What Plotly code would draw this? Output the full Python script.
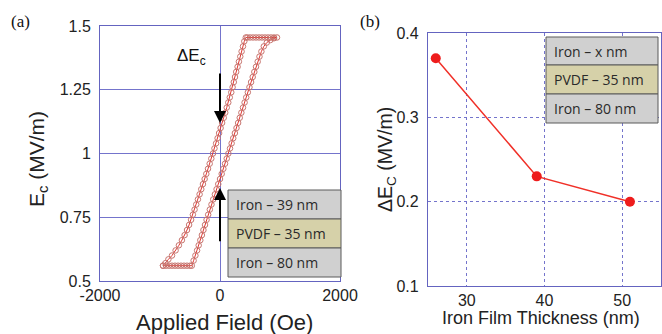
import plotly.graph_objects as go

# ---------------- data: panel (a) hysteresis loop ----------------
# ascending field: bottom saturation then rising branch
field_up = [-950, -900, -850, -800, -750, -700, -650, -600, -550, -500,
            -470, -440, -410, -382, -355, -328, -302, -276, -250, -224,
            -197, -170, -142, -113, -85, -57, -29, 0, 28, 56,
            84, 112, 140, 167, 194, 221, 248, 275, 302, 329,
            356, 383, 410, 437, 464, 491, 518, 545, 572, 600,
            628, 658, 690, 730, 780, 840, 900, 950]
ec_up = [0.56, 0.56, 0.56, 0.56, 0.56, 0.56, 0.56, 0.56, 0.56, 0.56,
         0.56, 0.58, 0.60, 0.62, 0.64, 0.66, 0.68, 0.70, 0.72, 0.74,
         0.76, 0.78, 0.80, 0.82, 0.84, 0.86, 0.88, 0.90, 0.92, 0.94,
         0.96, 0.98, 1.00, 1.02, 1.04, 1.06, 1.08, 1.10, 1.12, 1.14,
         1.16, 1.18, 1.20, 1.22, 1.24, 1.26, 1.28, 1.30, 1.32, 1.34,
         1.36, 1.38, 1.40, 1.42, 1.435, 1.445, 1.452, 1.455]
# descending field: top saturation then falling branch
field_down = [900, 850, 800, 750, 700, 650, 600, 550, 500, 455,
              430, 405, 383, 360, 338, 315, 293, 270, 250, 230,
              210, 188, 163, 138, 112, 87, 62, 35, 10, -15,
              -40, -65, -92, -117, -145, -172, -200, -228, -256, -284,
              -312, -340, -368, -396, -424, -452, -482, -515, -550, -590,
              -635, -685, -740, -800, -860, -910, -950]
ec_down = [1.455, 1.455, 1.455, 1.455, 1.455, 1.455, 1.455, 1.455, 1.455, 1.455,
           1.455, 1.44, 1.42, 1.40, 1.38, 1.36, 1.34, 1.32, 1.30, 1.28,
           1.26, 1.24, 1.22, 1.20, 1.18, 1.16, 1.14, 1.12, 1.10, 1.08,
           1.06, 1.04, 1.02, 1.00, 0.98, 0.96, 0.94, 0.92, 0.90, 0.88,
           0.86, 0.84, 0.82, 0.80, 0.78, 0.76, 0.74, 0.72, 0.70, 0.68,
           0.66, 0.64, 0.62, 0.60, 0.585, 0.57, 0.56]

a_xticks = [-2000, 0, 2000]
a_yticks = [0.5, 0.75, 1, 1.25, 1.5]
a_ylabels = ["0.5", "0.75", "1", "1.25", "1.5"]
layers_a = ["Iron – 39 nm", "PVDF – 35 nm", "Iron – 80 nm"]

# ---------------- data: panel (b) ----------------
thickness_nm = [26, 39, 51]
delta_ec = [0.37, 0.23, 0.20]
b_xticks = [30, 40, 50]
b_yticks = [0.1, 0.2, 0.3, 0.4]
layers_b = ["Iron – x nm", "PVDF – 35 nm", "Iron – 80 nm"]

W, H = 662, 334


def px(x):
    return x / W


def py(y):
    return 1 - y / H


fig = go.Figure()

fig.add_trace(go.Scatter(
    x=field_up + field_down, y=ec_up + ec_down,
    mode="lines+markers",
    line=dict(color="#e2322c", width=1),
    marker=dict(symbol="circle-open", size=5.5, color="#c7746e",
                line=dict(width=1, color="#c7746e")),
    xaxis="x", yaxis="y", showlegend=False, hoverinfo="skip"))

fig.add_trace(go.Scatter(
    x=thickness_nm, y=delta_ec, mode="lines+markers",
    line=dict(color="#f03028", width=1.5),
    marker=dict(symbol="circle", size=10, color="#ee1c1c"),
    xaxis="x2", yaxis="y2", showlegend=False, hoverinfo="skip"))

tickfont = dict(family="Liberation Sans, Arial", size=16, color="#222")
axcol = "#6464c0"
gridcol = "#7474cc"

fig.update_layout(
    width=W, height=H, margin=dict(l=0, r=0, t=0, b=0, autoexpand=False),
    paper_bgcolor="white", plot_bgcolor="white",
    xaxis=dict(domain=[px(100), px(340)], range=[-2000, 2000],
               tickvals=a_xticks, ticktext=[str(v) for v in a_xticks],
               showgrid=True, gridcolor=gridcol, gridwidth=1,
               zeroline=False, showline=True, mirror=True,
               linecolor=axcol, linewidth=1, ticks="", automargin=False,
               tickfont=tickfont, anchor="y"),
    yaxis=dict(domain=[py(281), py(26)], range=[0.5, 1.5],
               tickvals=a_yticks, ticktext=a_ylabels,
               showgrid=True, gridcolor=gridcol, gridwidth=1,
               zeroline=False, showline=True, mirror=True,
               linecolor=axcol, linewidth=1, ticks="", automargin=False,
               ticklabelstandoff=5,
               tickfont=tickfont, anchor="x"),
    xaxis2=dict(domain=[px(428), px(661)], range=[25, 55],
                tickvals=b_xticks, ticktext=[str(v) for v in b_xticks],
                showgrid=True, gridcolor=gridcol, gridwidth=1, griddash="dot",
                zeroline=False, showline=True, mirror=True,
                linecolor=axcol, linewidth=1.2, ticks="", automargin=False,
                tickfont=tickfont, anchor="y2"),
    yaxis2=dict(domain=[py(286), py(33)], range=[0.1, 0.4],
                tickvals=b_yticks, ticktext=["0.1", "0.2", "0.3", "0.4"],
                showgrid=True, gridcolor=gridcol, gridwidth=1, griddash="dot",
                zeroline=False, showline=True, mirror=True,
                linecolor=axcol, linewidth=1.2, ticks="", automargin=False,
                ticklabelstandoff=5,
                tickfont=tickfont, anchor="x2"),
)

shapes = []
annotations = []
boxfill = ["#d0d0d0", "#d6d1a9", "#d0d0d0"]


def add_layers(x0, x1, tops, labels, tx):
    for i, lab in enumerate(labels):
        y0, y1 = tops[i], tops[i + 1]
        shapes.append(dict(type="rect", xref="paper", yref="paper",
                           x0=px(x0), x1=px(x1), y0=py(y1), y1=py(y0),
                           fillcolor=boxfill[i],
                           line=dict(color="#5a5a5a", width=1), layer="above"))
        annotations.append(dict(xref="paper", yref="paper", x=px(tx),
                                y=py((y0 + y1) / 2), text=lab, showarrow=False,
                                xanchor="left", yanchor="middle",
                                font=dict(family="Open Sans", size=14, color="#2a2a2a")))


add_layers(228, 341, [190, 219, 248, 277], layers_a, 234)
add_layers(546, 658, [37, 65, 94, 123], layers_b, 552)

# arrows on panel (a)
annotations.append(dict(xref="x", yref="y", axref="x", ayref="y",
                        x=0, y=1.12, ax=0, ay=1.32, text="", showarrow=True,
                        arrowhead=2, arrowsize=1.2, arrowwidth=2, arrowcolor="black"))
annotations.append(dict(xref="x", yref="y", axref="x", ayref="y",
                        x=0, y=0.865, ax=0, ay=0.65, text="", showarrow=True,
                        arrowhead=2, arrowsize=1.2, arrowwidth=2, arrowcolor="black"))
annotations.append(dict(xref="x", yref="y", x=-480, y=1.38, text="ΔE<sub>c</sub>",
                        xanchor="center", yanchor="middle",
                        showarrow=False, font=dict(family="Liberation Sans, Arial", size=17, color="#111")))

ctr = dict(xref="paper", yref="paper", showarrow=False, xanchor="center", yanchor="middle")
annotations += [
    dict(ctr, x=px(224), y=py(322), text="Applied Field (Oe)",
         font=dict(family="Liberation Sans, Arial", size=22, color="#222")),
    dict(ctr, x=px(38), y=py(159), text="E<sub>c</sub> (MV/m)", textangle=-90,
         font=dict(family="Liberation Sans, Arial", size=21, color="#222")),
    dict(ctr, x=px(541), y=py(318), text="Iron Film Thickness (nm)",
         font=dict(family="Liberation Sans, Arial", size=18, color="#222")),
    dict(ctr, x=px(386), y=py(160), text="ΔE<sub>C</sub> (MV/m)", textangle=-90,
         font=dict(family="Liberation Sans, Arial", size=19.5, color="#222")),
    dict(ctr, x=px(20), y=py(21), text="(a)",
         font=dict(family="Liberation Serif, Times New Roman", size=17, color="#111")),
    dict(ctr, x=px(370), y=py(21), text="(b)",
         font=dict(family="Liberation Serif, Times New Roman", size=17, color="#111")),
]

fig.update_layout(shapes=shapes, annotations=annotations)
fig.write_html("out.html", config={"displayModeBar": False},
               post_script="document.body.style.margin='0';document.body.style.overflow='hidden';")
